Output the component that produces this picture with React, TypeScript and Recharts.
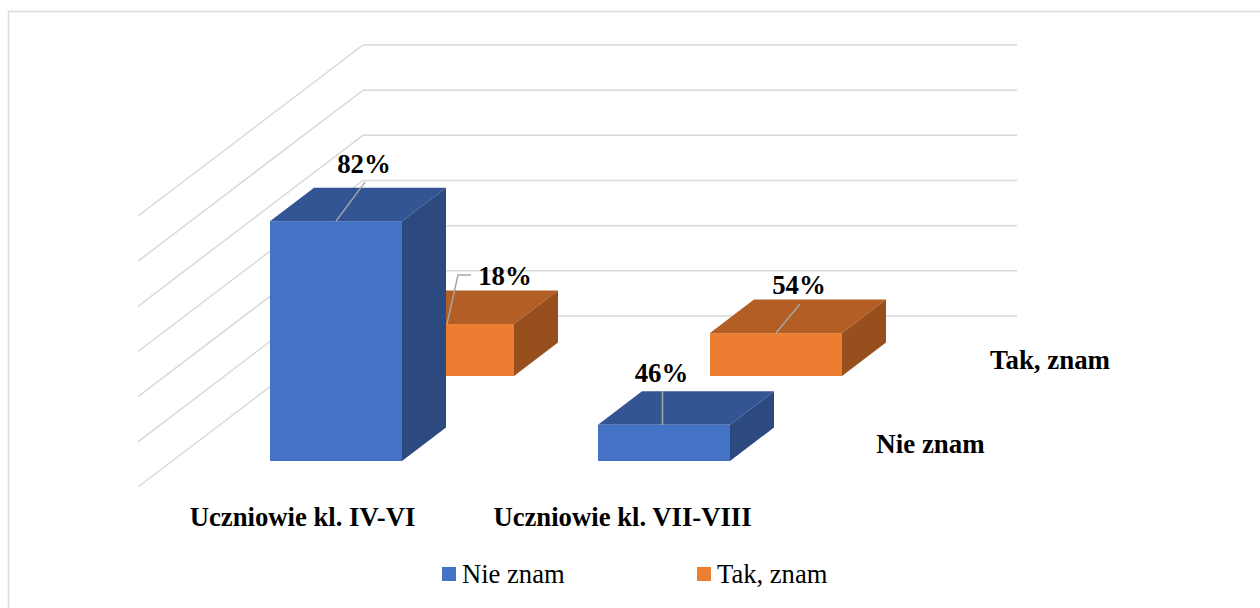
import React from "react";
import { BarChart, Bar, XAxis, YAxis, CartesianGrid, Legend, LabelList } from "recharts";

const categories = ["Uczniowie kl. IV-VI", "Uczniowie kl. VII-VIII"];
// bar heights as drawn in the picture (the printed labels do not follow them)
const nieZnam = [53.1, 8];
const takZnam = [11.5, 9.5];
const nieZnamLabels = ["82%", "46%"];
const takZnamLabels = ["18%", "54%"];
const gridTicks = [0, 10, 20, 30, 40, 50, 60];
const seriesNames = ["Nie znam", "Tak, znam"];

const data = categories.map((name, i) => ({
  name,
  nie: nieZnam[i],
  tak: takZnam[i],
  nieLabel: nieZnamLabels[i],
  takLabel: takZnamLabels[i],
}));

const SERIF = "'Liberation Serif', 'Times New Roman', serif";
const DEPTH_X = 44;
const DEPTH_Y = 33.5;
const BACK_SHIFT = 85; // back row sits this far up the floor
const GRID = "#d9d9d9";
const LEADER = "#a6a6a6";

const BLUE = { front: "#4472c4", top: "#335593", side: "#2c4a7f" };
const ORANGE = { front: "#ed7d31", top: "#b25e25", side: "#964f1d" };

function box(colors: typeof BLUE, shift: number) {
  return (props: any) => {
    const { x, y, width, height } = props;
    const t = y - shift;
    const b = t + height;
    const r = x + width;
    return (
      <g>
        <polygon points={`${x},${t} ${x + DEPTH_X},${t - DEPTH_Y} ${r + DEPTH_X},${t - DEPTH_Y} ${r},${t}`} fill={colors.top} />
        <polygon points={`${r},${t} ${r + DEPTH_X},${t - DEPTH_Y} ${r + DEPTH_X},${b - DEPTH_Y} ${r},${b}`} fill={colors.side} />
        <rect x={x} y={t} width={width} height={height} fill={colors.front} />
      </g>
    );
  };
}

// leader line bends and text anchors, relative to the top centre of the front face
const blueLeaders = [
  { pts: [[29, -39]], tx: 28, ty: -48 },
  { pts: [[0, -34]], tx: -1, ty: -43 },
];
const orangeLeaders = [
  { pts: [[11, -49], [24, -49]], tx: 58, ty: -39 },
  { pts: [[24, -29]], tx: 23, ty: -39 },
];

function leaderLabel(leaders: typeof blueLeaders, shift: number, startDx: number[]) {
  return (props: any) => {
    const { x, y, width, value, index } = props;
    const l = leaders[index];
    const cx = x + width / 2 + startDx[index];
    const cy = y - shift;
    const base = x + width / 2;
    const pts = [[cx, cy], ...l.pts.map(([dx, dy]) => [base + dx + startDx[index], cy + dy])];
    return (
      <g>
        <polyline points={pts.map((p) => p.join(",")).join(" ")} fill="none" stroke={LEADER} strokeWidth={1.5} />
        <text
          x={base + l.tx + startDx[index]}
          y={cy + l.ty}
          textAnchor="middle"
          fontFamily={SERIF}
          fontWeight="bold"
          fontSize={26.8}
          fill="#000"
        >
          {value}
        </text>
      </g>
    );
  };
}

// horizontal line on the back wall, continued down the side wall
function WallLine(props: any) {
  const y = props.y1 - 145;
  return (
    <polyline
      key={props.key}
      points={`138,${y + 171} 363,${y} 1017,${y}`}
      fill="none"
      stroke={GRID}
      strokeWidth={1.5}
    />
  );
}

const tickShift = [-89.5, -97.5];

function CategoryTick(props: any) {
  const { x, payload, index } = props;
  return (
    <text
      x={x + tickShift[index]}
      y={526}
      textAnchor="middle"
      fontFamily={SERIF}
      fontWeight="bold"
      fontSize={26.7}
      fill="#000"
    >
      {payload.value}
    </text>
  );
}

function LegendBox() {
  const spots = [
    { left: 442, color: BLUE.front },
    { left: 697, color: ORANGE.front },
  ];
  return (
    <div style={{ position: "relative", height: 40, fontFamily: SERIF, fontSize: 26.6, color: "#000" }}>
      {seriesNames.map((name, i) => (
        <div key={name} style={{ position: "absolute", left: spots[i].left, top: 12, display: "flex", alignItems: "center", whiteSpace: "nowrap" }}>
          <span style={{ width: 14, height: 14, background: spots[i].color, marginRight: 6 }} />
          <span style={{ lineHeight: "14px" }}>{name}</span>
        </div>
      ))}
    </div>
  );
}

export default function App() {
  return (
    <div style={{ position: "absolute", left: 0, top: 0, width: 1260, height: 608, background: "#fff" }}>
      <BarChart
        width={1260}
        height={608}
        data={data}
        margin={{ top: 190, right: 376, bottom: 87, left: 228 }}
        barSize={132}
        barGap={-244}
      >
        <path d="M8.5 608 V11.5 H1260" fill="none" stroke={GRID} strokeWidth={1.5} />
        <CartesianGrid vertical={false} horizontal={WallLine} horizontalValues={gridTicks} />
        <XAxis
          dataKey="name"
          axisLine={false}
          tickLine={false}
          height={60}
          interval={0}
          tick={CategoryTick}
        />
        <YAxis hide domain={[0, 60]} ticks={gridTicks} />
        <Bar dataKey="tak" name={seriesNames[1]} shape={box(ORANGE, BACK_SHIFT)} isAnimationActive={false}>
          <LabelList dataKey="takLabel" content={leaderLabel(orangeLeaders, BACK_SHIFT, [-1, 0])} />
        </Bar>
        <Bar dataKey="nie" name={seriesNames[0]} shape={box(BLUE, 0)} isAnimationActive={false}>
          <LabelList dataKey="nieLabel" content={leaderLabel(blueLeaders, 0, [0, -1.5])} />
        </Bar>
        <text x={1050} y={369} textAnchor="middle" fontFamily={SERIF} fontWeight="bold" fontSize={26.9} fill="#000">
          {seriesNames[1]}
        </text>
        <text x={930.5} y={453} textAnchor="middle" fontFamily={SERIF} fontWeight="bold" fontSize={26.9} fill="#000">
          {seriesNames[0]}
        </text>
        <Legend
          verticalAlign="middle"
          align="center"
          wrapperStyle={{ left: 0, top: 555, width: 1260 }}
          content={<LegendBox />}
        />
      </BarChart>
    </div>
  );
}
